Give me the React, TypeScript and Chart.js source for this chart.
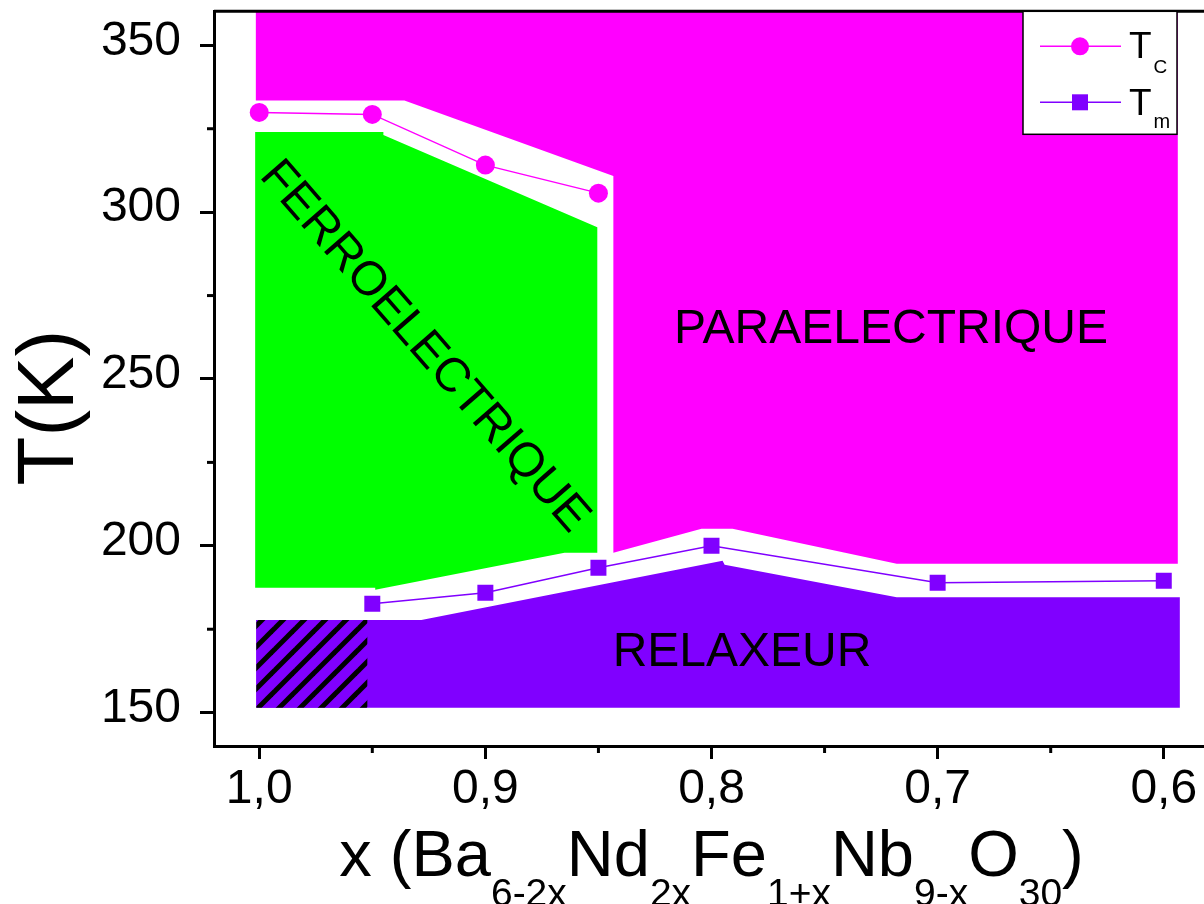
import React, { useEffect, useRef } from 'react';
import { Chart, registerables } from 'chart.js';

Chart.register(...registerables);

// Measured transition temperatures
const TC_X = [1.0, 0.95, 0.9, 0.85];
const TC_Y = [329.9, 329.3, 314.1, 305.7];
const TM_X = [0.95, 0.9, 0.85, 0.8, 0.7, 0.6];
const TM_Y = [182.6, 185.9, 193.4, 200.0, 188.9, 189.5];

// Phase regions (polygon vertices, x then y)
const PARA_X = [1.0015, 1.0015, 0.9358, 0.8434, 0.8434, 0.8044, 0.7907, 0.7181, 0.5938, 0.5938];
const PARA_Y = [365, 333.5, 333.5, 310.8, 197.9, 205.1, 205.1, 194.6, 194.6, 365];
const FERRO_X = [1.0018, 0.9451, 0.9451, 0.8505, 0.8505, 0.865, 0.9487, 0.9487, 1.0018];
const FERRO_Y = [324.0, 324.0, 323.1, 295.5, 197.9, 197.9, 186.8, 187.4, 187.4];
const RELAX_X = [1.0013, 0.9283, 0.7951, 0.7942, 0.7181, 0.5929, 0.5929, 1.0013];
const RELAX_Y = [177.8, 177.8, 195.5, 194.3, 184.6, 184.6, 151.5, 151.5];
const HATCH_X = [1.0013, 0.9522, 0.9522, 1.0013];
const HATCH_Y = [177.8, 177.8, 151.5, 151.5];

// Region labels
const REGION_NAMES = ['FERROELECTRIQUE', 'PARAELECTRIQUE', 'RELAXEUR'];
const REGION_X = [0.927, 0.7206, 0.7865];
const REGION_Y = [259.6, 264.7, 168.0];
const REGION_ANGLE = [49, 0, 0];

// Axes
const X_MAJOR = [1.0, 0.9, 0.8, 0.7, 0.6];
const X_MINOR = [0.95, 0.85, 0.75, 0.65];
const Y_MAJOR = [150, 200, 250, 300, 350];
const Y_MINOR = [175, 225, 275, 325];

const MAGENTA = '#FF00FF';
const PURPLE = '#8000FF';
const GREEN = '#00FF00';
const FONT = "'Liberation Sans', Arial, sans-serif";

const X_TITLE: Array<[string, boolean]> = [
  ['x (Ba', false], ['6-2x', true], ['Nd', false], ['2x', true], ['Fe', false],
  ['1+x', true], ['Nb', false], ['9-x', true], ['O', false], ['30', true], [')', false],
];

function makeHatch(): CanvasPattern | string {
  const p = 21;
  const c = document.createElement('canvas');
  c.width = p;
  c.height = p;
  const g = c.getContext('2d');
  if (!g) return PURPLE;
  g.fillStyle = PURPLE;
  g.fillRect(0, 0, p, p);
  g.strokeStyle = '#000';
  g.lineWidth = 5;
  for (const k of [-1, 0, 1]) {
    g.beginPath();
    g.moveTo(-2 + k * p, p + 2);
    g.lineTo(p + 2 + k * p, -2);
    g.stroke();
  }
  return g.createPattern(c, 'repeat') || PURPLE;
}

const decor = {
  id: 'decor',
  afterDatasetsDraw(chart: any) {
    const { ctx, scales } = chart;
    const xs = scales.x, ys = scales.y;
    ctx.save();
    ctx.fillStyle = '#000';
    ctx.font = `48px ${FONT}`;
    ctx.textAlign = 'center';
    ctx.textBaseline = 'middle';
    REGION_NAMES.forEach((name, i) => {
      ctx.save();
      ctx.translate(xs.getPixelForValue(REGION_X[i]), ys.getPixelForValue(REGION_Y[i]));
      ctx.rotate((REGION_ANGLE[i] * Math.PI) / 180);
      ctx.fillText(name, 0, 0);
      ctx.restore();
    });
    ctx.restore();
  },
  afterDraw(chart: any) {
    const { ctx, chartArea, scales } = chart;
    const xs = scales.x, ys = scales.y;
    ctx.save();
    // top frame line
    ctx.strokeStyle = '#000';
    ctx.lineWidth = 3;
    ctx.beginPath();
    ctx.moveTo(chartArea.left, chartArea.top);
    ctx.lineTo(chartArea.right, chartArea.top);
    ctx.stroke();
    // minor ticks
    ctx.lineWidth = 3;
    X_MINOR.forEach((v) => {
      const px = xs.getPixelForValue(v);
      ctx.beginPath();
      ctx.moveTo(px, chartArea.bottom);
      ctx.lineTo(px, chartArea.bottom + 7);
      ctx.stroke();
    });
    Y_MINOR.forEach((v) => {
      const py = ys.getPixelForValue(v);
      ctx.beginPath();
      ctx.moveTo(chartArea.left - 7, py);
      ctx.lineTo(chartArea.left, py);
      ctx.stroke();
    });

    // y title
    ctx.fillStyle = '#000';
    ctx.save();
    ctx.translate(73, (chartArea.top + chartArea.bottom) / 2 + 29);
    ctx.rotate(-Math.PI / 2);
    ctx.font = `80px ${FONT}`;
    ctx.textAlign = 'center';
    ctx.textBaseline = 'alphabetic';
    ctx.fillText('T(K)', 0, 0);
    ctx.restore();

    // x title with subscripts
    const mainF = `65px ${FONT}`;
    const subF = `39px ${FONT}`;
    let total = 0;
    X_TITLE.forEach(([t, sub]) => {
      ctx.font = sub ? subF : mainF;
      total += ctx.measureText(t).width;
    });
    let cx = (chartArea.left + chartArea.right) / 2 - total / 2;
    const base = chartArea.bottom + 130;
    ctx.textAlign = 'left';
    ctx.textBaseline = 'alphabetic';
    X_TITLE.forEach(([t, sub]) => {
      ctx.font = sub ? subF : mainF;
      ctx.fillText(t, cx, sub ? base + 30 : base);
      cx += ctx.measureText(t).width;
    });

    // legend
    const bx = chartArea.right - 186;
    const by = chartArea.top;
    const bw = 154, bh = 123;
    ctx.fillStyle = '#fff';
    ctx.fillRect(bx, by, bw, bh);
    ctx.strokeStyle = '#000';
    ctx.lineWidth = 1.5;
    ctx.strokeRect(bx, by, bw, bh);
    const entries = [
      { color: MAGENTA, shape: 'circle', dy: 35, main: 'T', sub: 'C', tBase: 47, sBase: 62, sSize: 19 },
      { color: PURPLE, shape: 'rect', dy: 91, main: 'T', sub: 'm', tBase: 104, sBase: 117, sSize: 20 },
    ];
    entries.forEach((e) => {
      const y = by + e.dy;
      ctx.strokeStyle = e.color;
      ctx.lineWidth = 1.5;
      ctx.beginPath();
      ctx.moveTo(bx + 17, y);
      ctx.lineTo(bx + 98, y);
      ctx.stroke();
      ctx.fillStyle = e.color;
      if (e.shape === 'circle') {
        ctx.beginPath();
        ctx.arc(bx + 57, y, 9, 0, Math.PI * 2);
        ctx.fill();
      } else {
        ctx.fillRect(bx + 49, y - 8, 16, 16);
      }
      ctx.fillStyle = '#000';
      ctx.font = `37px ${FONT}`;
      ctx.fillText(e.main, bx + 106, by + e.tBase);
      const w = ctx.measureText(e.main).width;
      ctx.font = `${e.sSize}px ${FONT}`;
      ctx.fillText(e.sub, bx + 106 + w + 2, by + e.sBase);
    });
    ctx.restore();
  },
};

export default function App() {
  const ref = useRef<HTMLCanvasElement>(null);
  useEffect(() => {
    document.body.style.margin = '0';
    document.body.style.overflow = 'hidden';
    const pts = (xs: number[], ys: number[]) => xs.map((x, i) => ({ x, y: ys[i] }));
    const poly = (label: string, xs: number[], ys: number[], color: any) => ({
      label,
      data: pts(xs, ys),
      showLine: true,
      fill: 'shape',
      backgroundColor: color,
      borderColor: 'transparent',
      borderWidth: 0,
      pointRadius: 0,
      pointHoverRadius: 0,
      tension: 0,
    });
    const datasets: any[] = [
      {
        label: 'Tc',
        data: pts(TC_X, TC_Y),
        showLine: true,
        borderColor: MAGENTA,
        backgroundColor: MAGENTA,
        borderWidth: 1.5,
        pointStyle: 'circle',
        pointRadius: 9.5,
        pointBorderWidth: 0,
        fill: false,
      },
      {
        label: 'Tm',
        data: pts(TM_X, TM_Y),
        showLine: true,
        borderColor: PURPLE,
        backgroundColor: PURPLE,
        borderWidth: 1.5,
        pointStyle: 'rect',
        pointRadius: 11.3,
        pointBorderWidth: 0,
        fill: false,
      },
      poly('hatch', HATCH_X, HATCH_Y, makeHatch()),
      poly('relaxeur', RELAX_X, RELAX_Y, PURPLE),
      poly('ferro', FERRO_X, FERRO_Y, GREEN),
      poly('para', PARA_X, PARA_Y, MAGENTA),
    ];
    const chart = new Chart(ref.current as HTMLCanvasElement, {
      type: 'scatter',
      data: { datasets },
      options: {
        animation: false,
        responsive: false,
        devicePixelRatio: 1,
        layout: { padding: { top: 11, right: 31, left: 0, bottom: 0 } },
        plugins: { legend: { display: false }, tooltip: { enabled: false } },
        scales: {
          x: {
            type: 'linear',
            reverse: true,
            min: 0.58,
            max: 1.02,
            afterBuildTicks: (s: any) => {
              s.ticks = X_MAJOR.map((v) => ({ value: v }));
            },
            afterFit: (s: any) => {
              s.height = 158;
              s.paddingLeft = 0;
              s.paddingRight = 0;
            },
            grid: {
              display: true,
              drawOnChartArea: false,
              drawTicks: true,
              tickLength: 13,
              tickWidth: 3,
              tickColor: '#000',
            },
            border: { display: true, color: '#000', width: 3 },
            ticks: {
              color: '#000',
              font: { family: FONT, size: 48 },
              padding: 2,
              maxRotation: 0,
              autoSkip: false,
              callback: (v: any) => Number(v).toFixed(1).replace('.', ','),
            },
          },
          y: {
            type: 'linear',
            min: 140,
            max: 360.2,
            afterBuildTicks: (s: any) => {
              s.ticks = Y_MAJOR.map((v) => ({ value: v }));
            },
            afterFit: (s: any) => {
              s.width = 214;
              s.paddingTop = 0;
              s.paddingBottom = 0;
            },
            grid: {
              display: true,
              drawOnChartArea: false,
              drawTicks: true,
              tickLength: 14,
              tickWidth: 3,
              tickColor: '#000',
            },
            border: { display: true, color: '#000', width: 3 },
            ticks: {
              color: '#000',
              font: { family: FONT, size: 48 },
              padding: 19,
              labelOffset: -4,
              autoSkip: false,
              callback: (v: any) => String(v),
            },
          },
        },
      } as any,
      plugins: [decor],
    });
    return () => chart.destroy();
  }, []);
  return (
    <div style={{ width: 1204, height: 904, overflow: 'hidden', position: 'relative' }}>
      <canvas ref={ref} width={1240} height={904} style={{ display: 'block' }} />
    </div>
  );
}
